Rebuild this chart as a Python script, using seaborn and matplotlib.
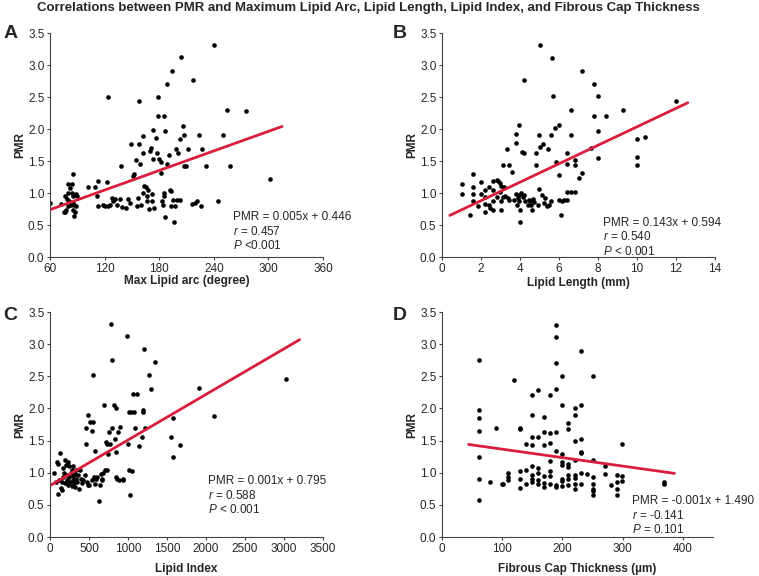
import numpy as np
import pandas as pd
import matplotlib
matplotlib.use("Agg")
import matplotlib.pyplot as plt
import seaborn as sns

# -------------------------------
# Data
# -------------------------------
arc_x = [60, 71.7, 76.5, 75.4, 76.5, 79.4, 85.7, 83.8, 82, 80.2, 84.2, 85.7, 87.5, 89.3, 88.6,
         78.3, 81.3, 82.7, 85, 86.8, 88.6, 85.7, 87.5, 86.8, 80.2, 77.6,
         101.4, 109.5, 113.2, 112, 113.2, 118.7, 120.5, 122.3, 123.4, 124, 126, 127.8, 129.7,
         131.5, 133.3, 137, 137.7, 138.8, 143.6, 146.2, 148, 148.8, 151, 152.8, 154.3, 155.3,
         157.2, 158.3, 157.9, 159, 160, 161.9, 162.7, 162.7, 163.4, 165.6, 166.3, 167, 168.2,
         168.9, 170, 170.8, 171.9, 172.6, 172.9, 173.7, 174.4, 176.6, 178, 178.4, 179.2, 180.3,
         181.7, 182, 182.9, 184, 184.7, 185.4, 185.4, 185.8, 186.5, 188.3, 189, 190.8, 191.9,
         192.6, 192.6, 193.7, 194.8, 196.3, 197.4, 198.5, 199.2, 201, 202.3, 203, 203.8, 206,
         206.8, 207.4, 209.6, 211.4, 215.8, 217.6, 219.5, 221.3, 223.9, 225.7, 226.8, 231.2,
         239.7, 244.4, 250.3, 254.3, 258, 275.2, 301.3]
arc_y = [0.84, 0.83, 0.96, 0.70, 0.71, 1.14, 1.29, 1.14, 1.08, 1.0, 1.0, 0.95, 0.97, 0.95, 0.99,
         0.90, 0.87, 0.82, 0.85, 0.82, 0.79, 0.74, 0.71, 0.64, 0.79, 0.73,
         1.09, 1.09, 1.18, 0.96, 0.80, 0.82, 0.79, 1.17, 2.50, 0.79, 0.81, 0.92, 0.87,
         0.90, 0.82, 0.90, 1.42, 0.78, 0.77, 0.90, 0.85, 1.76, 1.27, 1.30, 1.51, 0.79,
         0.92, 1.76, 2.43, 1.46, 0.82, 1.89, 1.62, 1.0, 1.11, 1.10, 0.95, 0.87, 1.05,
         0.75, 1.65, 1.70, 0.88, 0.99, 1.99, 1.53, 0.77, 1.86, 1.62, 2.50, 2.20, 1.53,
         1.49, 1.32, 0.87, 0.82, 1.0, 0.96, 2.20, 1.97, 0.62, 1.46, 2.71, 1.60, 1.04,
         1.03, 0.79, 2.91, 0.89, 0.54, 0.79, 1.68, 0.89, 1.62, 1.84, 0.89, 3.12, 2.05,
         1.90, 1.42, 1.42, 1.68, 0.83, 2.76, 0.85, 0.87, 1.90, 0.79, 1.68, 1.42,
         3.32, 0.88, 1.90, 2.29, 1.42, 2.28, 1.22]

len_x = [1.0, 1.0, 1.43, 1.6, 1.6, 1.6, 1.6, 1.83, 2.01, 2.01, 2.2, 2.2, 2.2, 2.22, 2.42, 2.42,
         2.48, 2.6, 2.63, 2.63, 2.63, 2.8, 2.8, 2.85, 2.97, 2.99, 3.02, 3.02, 3.04, 3.11, 3.11,
         3.19, 3.23, 3.31, 3.36, 3.41, 3.45, 3.59, 3.67, 3.79, 3.79, 3.79, 3.82, 3.88, 3.93,
         3.96, 3.96, 4.0, 4.0, 4.05, 4.08, 4.13, 4.18, 4.22, 4.22, 4.27, 4.39, 4.44, 4.52, 4.56,
         4.61, 4.68, 4.73, 4.81, 4.81, 4.9, 4.99, 4.99, 5.02, 5.02, 5.12, 5.19, 5.24, 5.29,
         5.38, 5.41, 5.5, 5.58, 5.58, 5.62, 5.7, 5.8, 5.84, 5.98, 6.01, 6.01, 6.1, 6.15, 6.27,
         6.4, 6.4, 6.4, 6.4, 6.61, 6.61, 6.61, 6.81, 6.81, 6.81, 7.03, 7.2, 7.2, 7.63, 7.8,
         7.8, 8.02, 8.02, 8.02, 8.4, 9.29, 10.02, 10.02, 10.02, 10.41, 11.99]
len_y = [1.14, 0.99, 0.65, 1.30, 1.10, 0.99, 0.87, 0.80, 1.17, 0.99, 1.04, 0.83, 0.70, 0.94, 1.10, 0.81,
         0.77, 1.19, 1.04, 0.87, 0.74, 1.20, 0.94, 1.19, 1.16, 1.01, 0.87, 0.74, 1.11, 1.43, 0.94,
         1.10, 0.95, 1.69, 0.92, 1.43, 0.89, 1.33, 0.89, 1.92, 1.78, 0.99, 0.81, 0.92, 0.97,
         2.06, 0.87, 0.74, 0.55, 1.0, 1.64, 0.94, 1.63, 2.76, 0.97, 0.87, 0.81, 0.89, 0.87, 0.81,
         0.74, 0.91, 0.86, 1.62, 1.44, 0.81, 1.90, 1.06, 3.31, 1.72, 0.97, 1.76, 0.85, 0.92,
         0.79, 1.69, 0.81, 1.90, 0.87, 3.11, 2.51, 2.01, 1.48, 2.06, 1.28, 0.89, 0.65, 0.87, 0.89,
         1.62, 1.46, 1.02, 0.89, 2.29, 1.90, 1.01, 1.51, 1.43, 1.02, 1.23, 2.90, 1.32, 1.70, 2.71,
         2.20, 2.51, 1.97, 1.55, 2.20, 2.29, 1.84, 1.56, 1.43, 1.88, 2.44]

idx_x = [51, 77, 86, 107, 98, 120, 128, 137, 150, 150, 163, 171, 180, 193, 193, 205, 214, 223,
         235, 235, 248, 248, 257, 265, 278, 278, 291, 300, 300, 308, 321, 321, 334, 334, 351,
         364, 377, 385, 394, 406, 419, 449, 462, 462, 471, 492, 484, 514, 505, 535, 543, 556,
         556, 565, 578, 578, 591, 599, 629, 642, 651, 664, 672, 685, 693, 706, 715, 727, 736,
         749, 757, 770, 779, 791, 800, 821, 834, 843, 847, 847, 864, 877, 885, 898, 933, 942,
         993, 998, 1015, 1015, 1019, 1032, 1048, 1070, 1083, 1091, 1113, 1147, 1177, 1190, 1198,
         1211, 1220, 1275, 1297, 1348, 1553, 1571, 1583, 1669, 1908, 2097, 3029]
idx_y = [1.0, 0.86, 1.17, 1.14, 0.67, 0.89, 1.30, 0.76, 0.73, 0.85, 0.94, 1.07, 0.99, 1.20, 0.84, 1.12, 0.89, 0.97,
         1.17, 0.81, 1.10, 0.94, 0.86, 0.99, 1.04, 0.79, 0.89, 1.10, 0.95, 0.84, 0.98, 0.78, 0.91, 1.04, 0.86,
         0.96, 0.74, 1.05, 0.91, 0.84, 0.89, 0.97, 1.70, 1.44, 0.85, 1.90, 0.81, 1.79, 0.81, 0.89, 1.65, 1.79,
         2.52, 0.94, 1.34, 0.83, 0.91, 0.94, 0.56, 0.81, 0.98, 0.91, 0.89, 0.99, 2.06, 1.04, 1.48, 1.04, 1.44,
         1.29, 1.64, 1.44, 3.32, 2.76, 1.70, 2.06, 1.53, 1.33, 2.01, 0.94, 0.91, 1.63, 0.89, 1.71, 0.89, 0.91,
         3.12, 1.45, 1.95, 1.04, 0.66, 1.95, 1.02, 2.22, 1.95, 1.69, 2.22, 1.42, 1.55, 1.98, 1.95,
         2.92, 1.70, 2.52, 2.30, 2.72, 1.55, 1.85, 1.24, 1.43, 2.32, 1.88, 2.46]

cap_x = [61, 61, 61, 61, 61, 61, 61, 80, 90, 99, 101, 110, 110, 110, 120, 130, 130, 130, 130, 130,
         139, 139, 139, 150, 150, 150, 150, 150, 150, 150, 150, 160, 160, 160, 160, 160, 160,
         169, 169, 169, 169, 169, 169, 179, 179, 179, 179, 179, 179, 179, 190, 190, 190, 190,
         190, 190, 190, 190, 199, 199, 199, 199, 199, 199, 199, 199, 210, 210, 210, 210, 210,
         210, 210, 220, 220, 220, 220, 220, 220, 220, 220, 230, 230, 230, 230, 230, 230, 230,
         240, 250, 250, 250, 250, 250, 250, 250, 270, 270, 280, 290, 290, 290, 290, 299, 299,
         299, 368, 368]
cap_y = [2.75, 1.97, 1.85, 1.65, 1.25, 0.91, 0.57, 0.86, 1.70, 0.82, 0.82, 0.99, 0.94, 0.89, 2.44, 1.70, 1.68, 1.02, 0.90, 0.76,
         1.44, 1.05, 0.83, 2.21, 1.90, 1.55, 1.43, 1.11, 0.96, 0.91, 0.86, 2.29, 1.55, 1.07, 1.00, 0.89, 0.82,
         1.87, 1.64, 1.43, 0.95, 0.84, 0.78, 2.21, 1.62, 1.46, 1.18, 1.02, 0.95, 0.82, 3.30, 3.11, 2.70, 2.30,
         1.63, 1.34, 0.81, 0.78, 2.51, 2.06, 1.29, 1.17, 1.12, 0.91, 0.87, 0.79, 1.78, 1.68, 1.13, 1.09, 0.96,
         0.91, 0.81, 2.01, 1.90, 1.50, 1.20, 0.97, 0.92, 0.82, 0.75, 2.90, 2.06, 1.53, 1.32, 1.30, 0.99, 0.82,
         0.98, 2.51, 1.20, 0.94, 0.82, 0.74, 0.71, 0.65, 1.11, 0.98, 0.81, 0.97, 0.86, 0.74, 0.66, 1.44, 0.95,
         0.87, 0.86, 0.82]

# regression lines (end points as drawn)
fit_arc_x, fit_arc_y = [60, 315], [0.74, 2.04]
fit_len_x, fit_len_y = [0.4, 12.6], [0.65, 2.41]
fit_idx_x, fit_idx_y = [0, 3200], [0.80, 3.07]
fit_cap_x, fit_cap_y = [44, 386], [1.44, 0.99]

x_labels = ["Max Lipid arc (degree)", "Lipid Length (mm)", "Lipid Index", "Fibrous Cap Thickness (\u00b5m)"]
equations = ["PMR = 0.005x + 0.446", "PMR = 0.143x + 0.594", "PMR = 0.001x + 0.795", "PMR = -0.001x + 1.490"]
r_values = ["0.457", "0.540", "0.588", "-0.141"]
p_values = ["<0.001", "< 0.001", "< 0.001", "= 0.101"]
letters = ["A", "B", "C", "D"]

# -------------------------------
# Style
# -------------------------------
sns.set_style("ticks")
plt.rcParams["font.family"] = ["Liberation Sans", "DejaVu Sans"]
plt.rcParams["mathtext.fontset"] = "custom"
plt.rcParams["mathtext.it"] = "Liberation Sans:italic"
plt.rcParams["mathtext.rm"] = "Liberation Sans"

fig = plt.figure(figsize=(7.59, 5.76), dpi=100)

boxes = [
    [0.0659, 0.5538, 0.3597, 0.3889],
    [0.5824, 0.5538, 0.3597, 0.3889],
    [0.0659, 0.0677, 0.3597, 0.3906],
    [0.5824, 0.0677, 0.3570, 0.3906],
]
xs = [arc_x, len_x, idx_x, cap_x]
ys = [arc_y, len_y, idx_y, cap_y]
fits = [(fit_arc_x, fit_arc_y), (fit_len_x, fit_len_y), (fit_idx_x, fit_idx_y), (fit_cap_x, fit_cap_y)]
xlims = [(60, 360), (0, 14), (0, 3500), (0, 450)]
xticks = [np.arange(60, 361, 60), np.arange(0, 15, 2), np.arange(0, 3501, 500), np.arange(0, 401, 100)]
xpads = [0, 2, 6, 6]
text_pos = [(0.67, 0.205), (0.59, 0.18), (0.58, 0.275), (0.70, 0.185)]
letter_pos = [(0.004, 0.941), (0.518, 0.941), (0.004, 0.452), (0.518, 0.452)]

for i in range(4):
    ax = fig.add_axes(boxes[i])
    df = pd.DataFrame({"x": xs[i], "y": ys[i]})
    sns.scatterplot(data=df, x="x", y="y", color="black", s=11, linewidth=0, ax=ax)
    sns.lineplot(x=fits[i][0], y=fits[i][1], color="#d81e3c", linewidth=2, ax=ax)

    ax.set_xlim(*xlims[i])
    ax.set_ylim(0, 3.5)
    ax.set_xticks(xticks[i])
    ax.set_yticks(np.arange(0, 3.51, 0.5))
    ax.set_yticklabels([f"{v:.1f}" for v in np.arange(0, 3.51, 0.5)])
    ax.tick_params(labelsize=8.5, length=2.5, width=0.8, color="#444444", pad=1.5)
    for s in ["left", "bottom"]:
        ax.spines[s].set_color("#444444")
        ax.spines[s].set_linewidth(0.8)
    sns.despine(ax=ax)

    ax.set_xlabel(x_labels[i], fontsize=8.5, fontweight="bold", labelpad=xpads[i])
    ax.set_ylabel("PMR", fontsize=8.5, fontweight="bold", labelpad=1)

    tx, ty = text_pos[i]
    ax.text(tx, ty, equations[i] + "\n$r$ = " + r_values[i] + "\n$P$ " + p_values[i],
            transform=ax.transAxes, fontsize=8.5, va="top", ha="left", linespacing=1.15)

    fig.text(letter_pos[i][0], letter_pos[i][1], letters[i], fontsize=14, fontweight="bold",
             ha="left", va="center")

fig.text(0.485, 0.986, "Correlations between PMR and Maximum Lipid Arc, Lipid Length, Lipid Index, and Fibrous Cap Thickness",
         fontsize=9.5, fontweight="bold", ha="center", va="center")

plt.savefig("out.png", dpi=100)
